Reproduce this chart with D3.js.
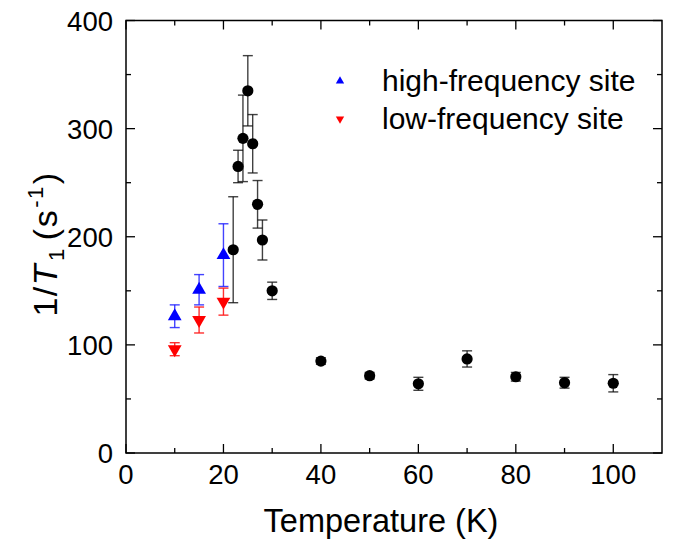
<!DOCTYPE html>
<html>
<head>
<meta charset="utf-8">
<title></title>
<script src="https://d3js.org/d3.v7.min.js"></script>
<style type="text/css">
  body{margin:0;background:#fff;}
  svg{display:block;font-family:"Liberation Sans", Arial, sans-serif;}
</style>
</head>
<body>
<div id='graph-container'></div>
<script type="text/javascript">

// high-frequency site (blue, up triangles)
var hfTemp = [10, 15, 20]
var hfRate = [126.5, 151, 183]
var hfErr = [10.5, 14, 29]

// low-frequency site (red, down triangles)
var lfTemp = [10, 15, 20]
var lfRate = [96, 123, 140]
var lfErr = [6, 12, 12.5]

// single site above the transition (black circles)
var temps = [22, 23, 24, 25, 26, 27, 28, 30, 40, 50, 60, 70, 80, 90, 100]
var rates = [188, 265, 291, 335, 286, 230, 197, 150, 85, 71.5, 64, 87, 70.5, 65, 64.5]
var rateErr = [49, 15, 40, 32.5, 27, 22, 18.5, 8, 3, 3, 6, 7.5, 4, 5, 8]

var xTicks = [0, 20, 40, 60, 80, 100]
var xMinor = [10, 30, 50, 70, 90]
var yTicks = [0, 100, 200, 300, 400]
var yMinor = [50, 150, 250, 350]

var legendLabels = ['high-frequency site', 'low-frequency site']

var margin = {top: 20.5, right: 11, bottom: 93, left: 126}
var width = 673 - margin.left - margin.right
var height = 546 - margin.top - margin.bottom

var xScale = d3.scaleLinear().domain([0, 110]).range([0, width])
var yScale = d3.scaleLinear().domain([0, 400]).range([height, 0])

var svg = d3.select('#graph-container').append('svg')
  .attr('width', 673)
  .attr('height', 546)

var g = svg.append('g')
  .attr('transform', `translate(${margin.left},${margin.top})`)

function zip(xs, ys, es){
  return xs.map((x, i) => ({x: x, y: ys[i], e: es[i]}))
}

function errorBars(data, color, opacity){
  var eb = g.append('g')
    .attr('stroke', color)
    .attr('stroke-width', 1.4)
    .attr('stroke-opacity', opacity)
    .attr('fill', 'none')
  data.forEach((d) => {
    var cx = xScale(d.x)
    eb.append('line')
      .attr('x1', cx).attr('x2', cx)
      .attr('y1', yScale(d.y + d.e)).attr('y2', yScale(d.y - d.e))
    eb.append('line')
      .attr('x1', cx - 5).attr('x2', cx + 5)
      .attr('y1', yScale(d.y + d.e)).attr('y2', yScale(d.y + d.e))
    eb.append('line')
      .attr('x1', cx - 5).attr('x2', cx + 5)
      .attr('y1', yScale(d.y - d.e)).attr('y2', yScale(d.y - d.e))
  })
}

var hfData = zip(hfTemp, hfRate, hfErr)
var lfData = zip(lfTemp, lfRate, lfErr)
var blackData = zip(temps, rates, rateErr)

errorBars(hfData, '#2222ff', 0.85)
errorBars(lfData, '#ff1a1a', 0.9)
errorBars(blackData, '#111', 0.8)

var triangle = d3.symbol().type(d3.symbolTriangle).size(82)

g.selectAll('path.hf')
  .data(hfData)
  .enter()
  .append('path')
  .attr('class', 'hf')
  .attr('d', triangle)
  .attr('transform', (d) => `translate(${xScale(d.x)},${yScale(d.y)})`)
  .attr('fill', '#0000ff')

g.selectAll('path.lf')
  .data(lfData)
  .enter()
  .append('path')
  .attr('class', 'lf')
  .attr('d', triangle)
  .attr('transform', (d) => `translate(${xScale(d.x)},${yScale(d.y)}) rotate(180)`)
  .attr('fill', '#ff0000')

g.selectAll('circle.pts')
  .data(blackData)
  .enter()
  .append('circle')
  .attr('class', 'pts')
  .attr('cx', (d) => xScale(d.x))
  .attr('cy', (d) => yScale(d.y))
  .attr('r', 5.6)
  .attr('fill', '#000')

// frame with inward ticks on all four sides
g.append('rect')
  .attr('width', width)
  .attr('height', height)
  .attr('fill', 'none')
  .attr('stroke', '#000')
  .attr('stroke-width', 1.5)

function tickMarks(values, scale, len, horizontal){
  values.forEach((v) => {
    var p = scale(v)
    if(horizontal){
      g.append('line').attr('x1', p).attr('x2', p).attr('y1', height).attr('y2', height - len)
        .attr('stroke', '#000').attr('stroke-width', 1.3)
      g.append('line').attr('x1', p).attr('x2', p).attr('y1', 0).attr('y2', len)
        .attr('stroke', '#000').attr('stroke-width', 1.3)
    } else {
      g.append('line').attr('x1', 0).attr('x2', len).attr('y1', p).attr('y2', p)
        .attr('stroke', '#000').attr('stroke-width', 1.3)
      g.append('line').attr('x1', width).attr('x2', width - len).attr('y1', p).attr('y2', p)
        .attr('stroke', '#000').attr('stroke-width', 1.3)
    }
  })
}
tickMarks(xTicks, xScale, 9, true)
tickMarks(xMinor, xScale, 5, true)
tickMarks(yTicks, yScale, 9, false)
tickMarks(yMinor, yScale, 5, false)

g.selectAll('text.xtick')
  .data(xTicks)
  .enter()
  .append('text')
  .attr('class', 'xtick')
  .attr('x', (d) => xScale(d))
  .attr('y', height + 31)
  .attr('text-anchor', 'middle')
  .attr('font-size', 27.5)
  .text((d) => d)

g.selectAll('text.ytick')
  .data(yTicks)
  .enter()
  .append('text')
  .attr('class', 'ytick')
  .attr('x', -13)
  .attr('y', (d) => yScale(d) + 10)
  .attr('text-anchor', 'end')
  .attr('font-size', 27.5)
  .text((d) => d)

// axis titles
svg.append('text')
  .attr('x', 381)
  .attr('y', 532)
  .attr('text-anchor', 'middle')
  .attr('font-size', 32.5)
  .text('Temperature (K)')

var yTitle = svg.append('text')
  .attr('transform', 'translate(57,244) rotate(-90)')
  .attr('text-anchor', 'middle')
  .attr('font-size', 34)
  .attr('letter-spacing', 1.5)
yTitle.append('tspan').text('1/')
yTitle.append('tspan').attr('font-style', 'italic').text('T')
yTitle.append('tspan').attr('font-size', 22).attr('dx', 2).attr('dy', 7).text('1')
yTitle.append('tspan').attr('dx', 7).attr('dy', -7).text('(s')
yTitle.append('tspan').attr('font-size', 22).attr('dx', 1).attr('dy', -14).text('-1')
yTitle.append('tspan').attr('dx', 1).attr('dy', 14).text(')')

// legend
var legendSym = d3.symbol().type(d3.symbolTriangle).size(30)
var legend = svg.append('g')
var legendColors = ['#0000ff', '#ff0000']
legendLabels.forEach((label, i) => {
  var ly = 81 + i * 38
  legend.append('path')
    .attr('d', legendSym)
    .attr('transform', `translate(340,${ly})` + (i === 1 ? ' rotate(180)' : ''))
    .attr('fill', legendColors[i])
  legend.append('text')
    .attr('x', 382)
    .attr('y', ly + 10)
    .attr('font-size', 30)
    .text(label)
})

</script>
</body>
</html>
